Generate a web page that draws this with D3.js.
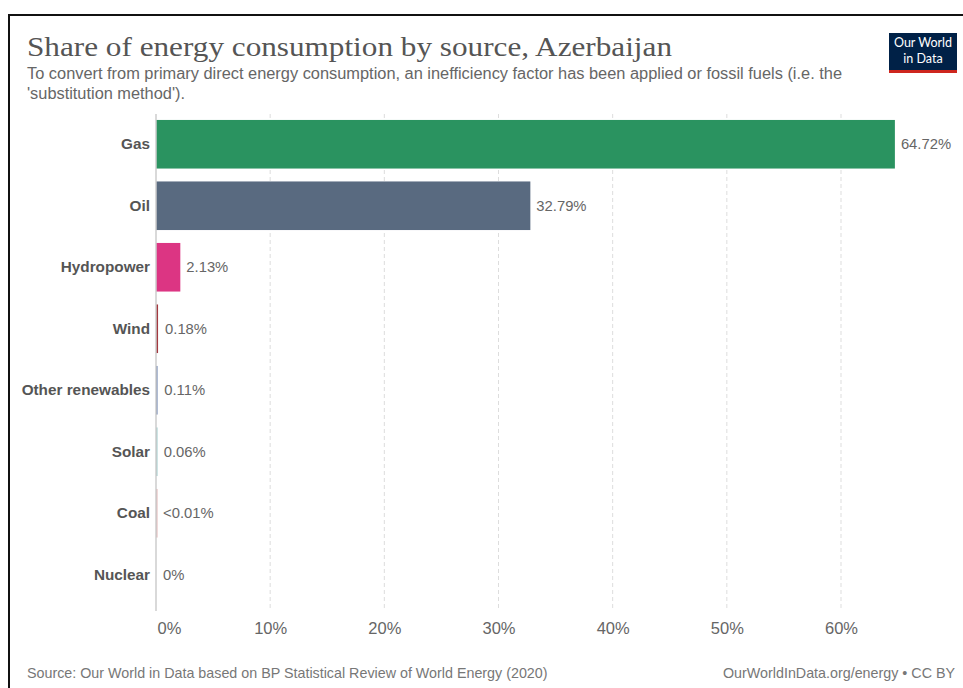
<!DOCTYPE html>
<html><head><meta charset="utf-8">
<script src="https://cdn.jsdelivr.net/npm/d3@7"></script>
<style>body{margin:0;background:#fff}svg{display:block}</style>
</head><body>
<script>
const categories = ["Gas","Oil","Hydropower","Wind","Other renewables","Solar","Coal","Nuclear"];
const values = [64.72, 32.79, 2.13, 0.18, 0.11, 0.06, 0.005, 0];
const valueLabels = ["64.72%","32.79%","2.13%","0.18%","0.11%","0.06%","<0.01%","0%"];
const colors = ["#2a9360","#596a80","#dc3583","#a3383f","#6078a8","#9bc9c9","#e2b3b3","#b5b5b5"];
const tickValues = [0,10,20,30,40,50,60];

const W = 963, H = 688;
const svg = d3.select("body").append("svg").attr("width", W).attr("height", H);
const sans = "'Liberation Sans', Arial, sans-serif";

// frame
svg.append("line").attr("x1",8).attr("x2",W).attr("y1",15).attr("y2",15).attr("stroke","#111").attr("stroke-width",2);
svg.append("line").attr("x1",9).attr("x2",9).attr("y1",14).attr("y2",H).attr("stroke","#111").attr("stroke-width",2);

// title
svg.append("text").attr("x",27).attr("y",56).text("Share of energy consumption by source, Azerbaijan")
  .attr("font-family","'Liberation Serif', 'DejaVu Serif', serif").attr("font-size",28).attr("fill","#555")
  .attr("textLength",645).attr("lengthAdjust","spacingAndGlyphs");
const sub = svg.append("g").attr("font-family",sans).attr("font-size",16).attr("fill","#666");
sub.append("text").attr("x",27).attr("y",79).attr("textLength",815).attr("lengthAdjust","spacingAndGlyphs")
  .text("To convert from primary direct energy consumption, an inefficiency factor has been applied or fossil fuels (i.e. the");
sub.append("text").attr("x",27).attr("y",99).attr("textLength",158).attr("lengthAdjust","spacingAndGlyphs")
  .text("'substitution method').");

// logo
const logo = svg.append("g");
logo.append("rect").attr("x",889).attr("y",33).attr("width",68).attr("height",40).attr("fill","#002147");
logo.append("rect").attr("x",889).attr("y",70).attr("width",68).attr("height",3).attr("fill","#ce261e");
logo.append("text").attr("x",923).attr("y",47).attr("text-anchor","middle").attr("fill","#fff")
  .attr("font-family","Lato, sans-serif").attr("font-size",12.5).text("Our World");
logo.append("text").attr("x",923).attr("y",63).attr("text-anchor","middle").attr("fill","#fff")
  .attr("font-family","Lato, sans-serif").attr("font-size",12.5).text("in Data");

// scales
const x = d3.scaleLinear().domain([0,60]).range([156, 841]);
const y = d3.scaleBand().domain(categories).range([113.5, 605.5]).paddingInner(0.21).paddingOuter(0.105);

// grid
const grid = svg.append("g");
grid.selectAll("line").data(tickValues.filter(d=>d>0)).join("line")
  .attr("x1",d=>x(d)).attr("x2",d=>x(d)).attr("y1",114).attr("y2",611)
  .attr("stroke","#ddd").attr("stroke-dasharray","4,3");

// bars
svg.append("g").selectAll("rect").data(categories).join("rect")
  .attr("x",x(0)).attr("y",d=>y(d)).attr("height",y.bandwidth())
  .attr("width",(d,i)=>Math.max(x(values[i])-x(0), values[i]>0?1.5:0))
  .attr("fill",(d,i)=>colors[i]);

// axis line
svg.append("line").attr("x1",x(0)).attr("x2",x(0)).attr("y1",114).attr("y2",611).attr("stroke","#ccc").attr("stroke-width",1.5);

// category labels
svg.append("g").selectAll("text").data(categories).join("text")
  .attr("x",150).attr("y",d=>y(d)+y.bandwidth()/2+5).attr("text-anchor","end")
  .attr("font-family",sans).attr("font-size",15.3).attr("font-weight","bold").attr("fill","#555").text(d=>d);

// value labels
svg.append("g").selectAll("text").data(categories).join("text")
  .attr("x",(d,i)=>x(values[i])+ (i<3?6:7)).attr("y",d=>y(d)+y.bandwidth()/2+5)
  .attr("font-family",sans).attr("font-size",14.8).attr("fill","#666").text((d,i)=>valueLabels[i]);

// x axis
const axis = svg.append("g").attr("transform","translate(0,611)")
  .call(d3.axisBottom(x).tickValues(tickValues).tickFormat(d=>d+"%").tickSize(0).tickPadding(11));
axis.select(".domain").remove();
axis.selectAll("text").attr("font-family",sans).attr("font-size",16.5).attr("fill","#666");
axis.selectAll(".tick").filter(d=>d===0).select("text").attr("text-anchor","start").attr("dx",1);

// footer
const foot = svg.append("g").attr("font-family",sans).attr("font-size",14.3).attr("fill","#777");
foot.append("text").attr("x",27).attr("y",678).text("Source: Our World in Data based on BP Statistical Review of World Energy (2020)");
foot.append("text").attr("x",955).attr("y",678).attr("text-anchor","end").text("OurWorldInData.org/energy • CC BY");
</script>
</body></html>
